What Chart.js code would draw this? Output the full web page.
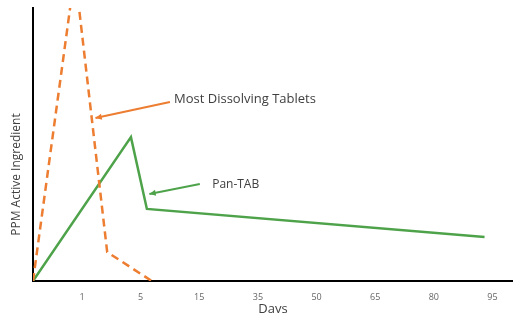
<!DOCTYPE html>
<html lang="en">
<head>
  <meta charset="UTF-8">
  <title>PPM Active Ingredient vs Days</title>
  <script src="https://cdn.jsdelivr.net/npm/chart.js"></script>
  <style>
    * { box-sizing: border-box; }
    body { margin:0; padding:0; background:#fff; font-family:'Open Sans',sans-serif; }
    #wrap { width:513px; height:313px; position:relative; }
  </style>
</head>
<body>
  <div id="wrap"><canvas id="chart"></canvas></div>

  <script>
    // x positions are slots along the "Days" axis (1 = first label, 8 = last)
    const tickLabels = ['1', '5', '15', '35', '50', '65', '80', '95'];

    const tabletsX = [0.165, 0.88, 1.43, 2.19];
    const tabletsY = [0, 113, 10.6, 0];

    const panTabX = [0.165, 1.835, 2.107, 7.865];
    const panTabY = [0, 52.7, 26.4, 16.1];

    const orange = '#ed7d31';
    const green  = '#4ea34a';
    const textCol = '#404040';

    Chart.defaults.font.family = '"Open Sans", sans-serif';

    const pts = (xs, ys) => xs.map((x, i) => ({ x, y: ys[i] }));

    // callout labels with arrows, in data units
    const callouts = [
      { text: 'Most Dissolving Tablets', size: 13, col: orange, tx: 2.57, ty: 66.5, from: [2.50, 65.6], to: [1.23, 59.7] },
      { text: 'Pan-TAB',                 size: 12, col: green,  tx: 3.22, ty: 35.5, from: [3.01, 35.5], to: [2.15, 31.9] }
    ];

    const calloutPlugin = {
      id: 'callouts',
      afterDatasetsDraw(chart) {
        const { ctx, chartArea, scales: { x, y } } = chart;
        ctx.save();
        callouts.forEach(c => {
          const x1 = x.getPixelForValue(c.from[0]), y1 = y.getPixelForValue(c.from[1]);
          const x2 = x.getPixelForValue(c.to[0]),   y2 = y.getPixelForValue(c.to[1]);
          ctx.strokeStyle = c.col; ctx.fillStyle = c.col; ctx.lineWidth = 2;
          ctx.beginPath(); ctx.moveTo(x1, y1); ctx.lineTo(x2, y2); ctx.stroke();
          const a = Math.atan2(y2 - y1, x2 - x1), s = 7;
          ctx.beginPath();
          ctx.moveTo(x2, y2);
          ctx.lineTo(x2 - s * Math.cos(a - 0.45), y2 - s * Math.sin(a - 0.45));
          ctx.lineTo(x2 - s * Math.cos(a + 0.45), y2 - s * Math.sin(a + 0.45));
          ctx.closePath(); ctx.fill();
          ctx.fillStyle = textCol;
          ctx.font = c.size + 'px "Open Sans", sans-serif';
          ctx.textBaseline = 'middle';
          ctx.fillText(c.text, x.getPixelForValue(c.tx), y.getPixelForValue(c.ty));
        });
        // y-axis title sits below the middle of the axis in the original
        ctx.translate(17, (chartArea.top + chartArea.bottom) / 2 + 30);
        ctx.rotate(-Math.PI / 2);
        ctx.fillStyle = textCol;
        ctx.font = '12px "Open Sans", sans-serif';
        ctx.textAlign = 'center';
        ctx.textBaseline = 'middle';
        ctx.fillText('PPM Active Ingredient', 0, 0);
        ctx.restore();
      }
    };

    new Chart(document.getElementById('chart'), {
      type: 'line',
      data: {
        datasets: [
          { label: 'Most Dissolving Tablets', data: pts(tabletsX, tabletsY), borderColor: orange,
            borderWidth: 2.5, borderDash: [8, 5], pointRadius: 0, tension: 0, fill: false },
          { label: 'Pan-TAB', data: pts(panTabX, panTabY), borderColor: green,
            borderWidth: 2.5, pointRadius: 0, tension: 0, fill: false }
        ]
      },
      options: {
        responsive: true,
        maintainAspectRatio: false,
        animation: false,
        layout: { padding: { top: 8, right: 0, left: 0, bottom: 0 } },
        plugins: { legend: { display: false }, tooltip: { enabled: false } },
        scales: {
          x: {
            type: 'linear', min: 0.165, max: 8.35,
            afterBuildTicks: s => { s.ticks = tickLabels.map((_, i) => ({ value: i + 1 })); },
            afterFit: s => { s.height = 32; },
            ticks: { callback: (v, i) => tickLabels[i], color: '#666', font: { size: 9 }, padding: 11, maxRotation: 0 },
            grid: { display: false, drawTicks: false },
            border: { color: '#000', width: 2 },
            title: { display: true, text: 'Days', color: textCol, font: { size: 13 }, padding: { top: 0, bottom: -4 } }
          },
          y: {
            min: 0, max: 100,
            afterFit: s => { s.width = 33; },
            ticks: { display: false },
            grid: { display: false, drawTicks: false },
            border: { color: '#000', width: 2 },
            title: { display: false }
          }
        }
      },
      plugins: [calloutPlugin]
    });
  </script>
</body>
</html>
